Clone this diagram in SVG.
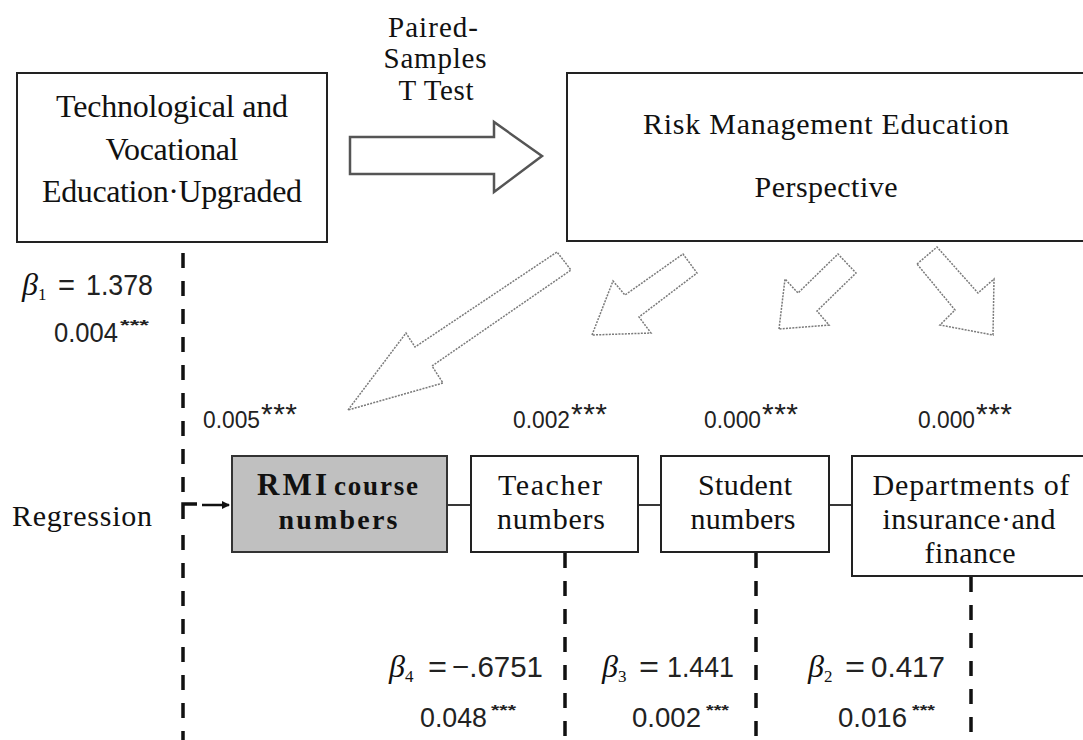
<svg xmlns="http://www.w3.org/2000/svg" width="1083" height="740" viewBox="0 0 1083 740">
<style>
.box{fill:#fff;stroke:#222;stroke-width:2}
.grey{fill:#c0c0c0;stroke:#333;stroke-width:2}
.ser{font-family:"Liberation Serif","Times New Roman",serif;fill:#111}
.san{font-family:"Liberation Sans",Arial,sans-serif;fill:#222}
.bold{font-weight:bold}
.c{text-anchor:middle}
.dash{stroke:#111;stroke-width:3.5;stroke-dasharray:15 13;fill:none}
.hollow{fill:#fff;stroke:#7a7a7a;stroke-width:1.5;stroke-dasharray:2 1.2}
.big{fill:#fff;stroke:#555;stroke-width:2.5}
.link{stroke:#222;stroke-width:1.8}
</style>
<defs>
<marker id="ah" markerWidth="8" markerHeight="8" refX="7" refY="4" orient="auto" markerUnits="userSpaceOnUse" viewBox="0 0 8 8"><path d="M0,0 L8,4 L0,8 z" fill="#111"/></marker>
</defs>

<g id="connectors">
  <polygon class="big" points="350,137 494,137 494,122 542,156 494,192 494,174 350,174"/>
  <polygon class="hollow" points="348,410 406,333 415,347 557,252 571,270 432,366 443,383"/>
  <polygon class="hollow" points="592,335 613,281 625,295 683,254 697,273 639,317 651,333"/>
  <polygon class="hollow" points="779,329 785,279 798,293 838,254 856,273 817,311 829,325"/>
  <polygon class="hollow" points="917,264 937,247 978,293 994,279 993,335 940,325 955,310"/>
  <line class="dash" x1="183" y1="253" x2="183" y2="495"/>
  <path d="M183,519 V504 H197" fill="none" stroke="#111" stroke-width="3.5"/>
  <line class="dash" x1="183" y1="535" x2="183" y2="740"/>
  <line x1="202" y1="505" x2="229" y2="505" stroke="#111" stroke-width="2.5" marker-end="url(#ah)"/>
  <line class="link" x1="447" y1="505" x2="471" y2="505"/>
  <line class="link" x1="638" y1="505" x2="661" y2="505"/>
  <line class="link" x1="829" y1="505" x2="852" y2="505"/>
  <line class="dash" x1="565" y1="553" x2="565" y2="740"/>
  <line class="dash" x1="756" y1="553" x2="756" y2="740"/>
  <line class="dash" x1="971" y1="577" x2="971" y2="740"/>
</g>

<g id="node-tve">
  <rect class="box" x="17" y="73" width="310" height="169"/>
  <text class="ser c" x="172" y="117" font-size="32" textLength="232">Technological and</text>
  <text class="ser c" x="172" y="160" font-size="32" textLength="133">Vocational</text>
  <text class="ser c" x="172" y="202" font-size="32" textLength="260">Education·Upgraded</text>
</g>

<g id="label-ttest">
  <text class="ser c" x="433" y="37" font-size="29" textLength="90">Paired-</text>
  <text class="ser c" x="435" y="68" font-size="29" textLength="103">Samples</text>
  <text class="ser c" x="436" y="100" font-size="29" textLength="75">T Test</text>
</g>

<g id="node-rme">
  <rect class="box" x="567" y="73" width="520" height="168"/>
  <text class="ser c" x="826" y="134" font-size="30" textLength="366">Risk Management Education</text>
  <text class="ser c" x="826" y="197" font-size="30" textLength="143">Perspective</text>
</g>

<g id="node-rmi">
  <rect class="grey" x="232" y="456" width="215" height="96"/>
  <text class="ser bold" x="257" y="495" font-size="31" textLength="70">RMI</text>
  <text class="ser bold" x="334" y="495" font-size="27" textLength="84">course</text>
  <text class="ser bold c" x="338" y="529" font-size="28" textLength="119">numbers</text>
</g>

<g id="node-teacher">
  <rect class="box" x="471" y="456" width="167" height="96"/>
  <text class="ser c" x="550" y="495" font-size="30" textLength="104">Teacher</text>
  <text class="ser c" x="551" y="529" font-size="30" textLength="108">numbers</text>
</g>

<g id="node-student">
  <rect class="box" x="661" y="456" width="168" height="96"/>
  <text class="ser c" x="745" y="495" font-size="30" textLength="94">Student</text>
  <text class="ser c" x="743" y="529" font-size="30" textLength="105">numbers</text>
</g>

<g id="node-dept">
  <rect class="box" x="852" y="456" width="235" height="120"/>
  <text class="ser c" x="971" y="495" font-size="30" textLength="197">Departments of</text>
  <text class="ser c" x="969" y="529" font-size="30" textLength="173">insurance·and</text>
  <text class="ser c" x="970" y="563" font-size="30" textLength="91">finance</text>
</g>

<g id="labels">
  <text class="ser" x="12" y="526" font-size="30" textLength="140">Regression</text>

  <text class="san" x="203" y="428" font-size="24" textLength="57" lengthAdjust="spacingAndGlyphs">0.005</text>
  <text class="san" x="261" y="424" font-size="30" textLength="36">***</text>
  <text class="san" x="513" y="428" font-size="24" textLength="57" lengthAdjust="spacingAndGlyphs">0.002</text>
  <text class="san" x="571" y="424" font-size="30" textLength="36">***</text>
  <text class="san" x="704" y="428" font-size="24" textLength="57" lengthAdjust="spacingAndGlyphs">0.000</text>
  <text class="san" x="762" y="424" font-size="30" textLength="36">***</text>
  <text class="san" x="918" y="428" font-size="24" textLength="57" lengthAdjust="spacingAndGlyphs">0.000</text>
  <text class="san" x="976" y="424" font-size="30" textLength="36">***</text>

  <text class="ser" x="22" y="295" font-size="32" font-style="italic">β<tspan font-size="17" font-style="normal" dy="5">1</tspan></text>
  <text class="san" x="58" y="295" font-size="30" textLength="17" lengthAdjust="spacingAndGlyphs">=</text>
  <text class="san" x="86" y="295" font-size="30" textLength="67" lengthAdjust="spacingAndGlyphs">1.378</text>
  <text class="san" x="54" y="342" font-size="27" textLength="64" lengthAdjust="spacingAndGlyphs">0.004</text>
  <text class="san bold" x="120" y="330" font-size="14" textLength="29" lengthAdjust="spacingAndGlyphs">***</text>

  <text class="ser" x="389" y="677" font-size="32" font-style="italic">β<tspan font-size="17" font-style="normal" dy="5">4</tspan></text>
  <text class="san" x="428" y="677" font-size="30" textLength="19" lengthAdjust="spacingAndGlyphs">=</text>
  <text class="san" x="452" y="677" font-size="30" textLength="91" lengthAdjust="spacingAndGlyphs">−.6751</text>
  <text class="san" x="420" y="727" font-size="27" textLength="67" lengthAdjust="spacingAndGlyphs">0.048</text>
  <text class="san bold" x="491" y="715" font-size="14" textLength="25" lengthAdjust="spacingAndGlyphs">***</text>

  <text class="ser" x="602" y="677" font-size="32" font-style="italic">β<tspan font-size="17" font-style="normal" dy="5">3</tspan></text>
  <text class="san" x="639" y="677" font-size="30" textLength="20" lengthAdjust="spacingAndGlyphs">=</text>
  <text class="san" x="667" y="677" font-size="30" textLength="67" lengthAdjust="spacingAndGlyphs">1.441</text>
  <text class="san" x="632" y="727" font-size="27" textLength="69" lengthAdjust="spacingAndGlyphs">0.002</text>
  <text class="san bold" x="706" y="715" font-size="14" textLength="23" lengthAdjust="spacingAndGlyphs">***</text>

  <text class="ser" x="808" y="677" font-size="32" font-style="italic">β<tspan font-size="17" font-style="normal" dy="5">2</tspan></text>
  <text class="san" x="845" y="677" font-size="30" textLength="20" lengthAdjust="spacingAndGlyphs">=</text>
  <text class="san" x="871" y="677" font-size="30" textLength="74" lengthAdjust="spacingAndGlyphs">0.417</text>
  <text class="san" x="838" y="727" font-size="27" textLength="69" lengthAdjust="spacingAndGlyphs">0.016</text>
  <text class="san bold" x="912" y="715" font-size="14" textLength="23" lengthAdjust="spacingAndGlyphs">***</text>
</g>
</svg>
